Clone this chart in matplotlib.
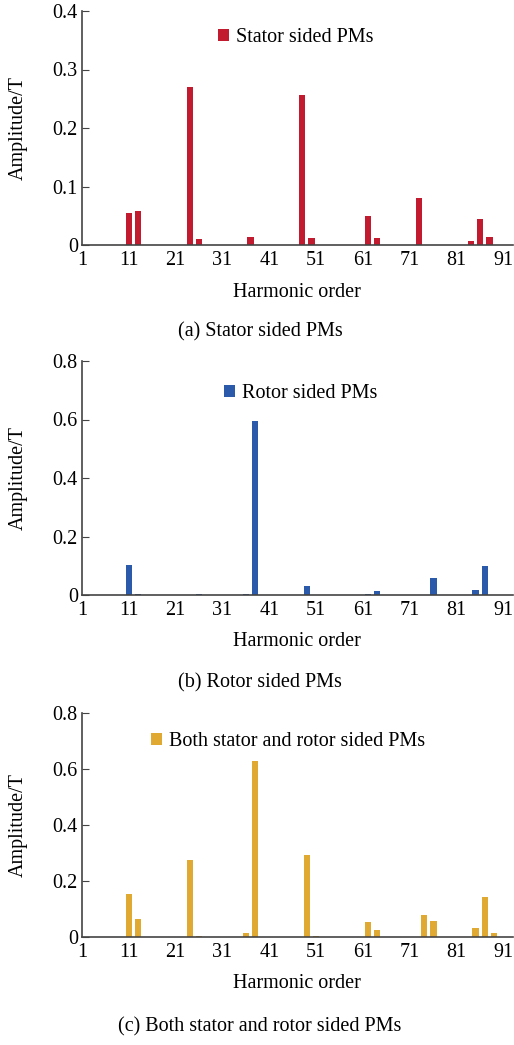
import matplotlib
matplotlib.use('Agg')
import matplotlib.pyplot as plt
from matplotlib.ticker import FuncFormatter

# Harmonic spectra
stator_orders = [11, 13, 24, 26, 37, 48, 50, 62, 64, 73, 84, 86, 88]
stator_amp = [0.054, 0.058, 0.27, 0.011, 0.014, 0.257, 0.012, 0.05, 0.012, 0.08, 0.006, 0.044, 0.013]

rotor_orders = [11, 13, 26, 36, 38, 49, 62, 64, 76, 85, 87]
rotor_amp = [0.103, 0.004, 0.004, 0.004, 0.595, 0.03, 0.004, 0.014, 0.058, 0.018, 0.098]

both_orders = [11, 13, 24, 26, 36, 38, 49, 51, 62, 64, 74, 76, 85, 87, 89]
both_amp = [0.155, 0.065, 0.275, 0.005, 0.016, 0.627, 0.293, 0.004, 0.052, 0.026,
            0.079, 0.058, 0.031, 0.143, 0.013]

x_ticks = [1, 11, 21, 31, 41, 51, 61, 71, 81, 91]

panels = [
    (stator_orders, stator_amp, '#C21A2E', 'Stator sided PMs', '(a) Stator sided PMs',
     [0, 0.1, 0.2, 0.3, 0.4]),
    (rotor_orders, rotor_amp, '#2C5AAA', 'Rotor sided PMs', '(b) Rotor sided PMs',
     [0, 0.2, 0.4, 0.6, 0.8]),
    (both_orders, both_amp, '#E0A932', 'Both stator and rotor sided PMs',
     '(c) Both stator and rotor sided PMs', [0, 0.2, 0.4, 0.6, 0.8]),
]

plt.rcParams['font.family'] = ['Liberation Serif', 'DejaVu Serif']
plt.rcParams['font.size'] = 14.5

W, H = 514, 1045
fig = plt.figure(figsize=(W / 100, H / 100), dpi=100)

# pixel layout: axes top, axes bottom, x label y, caption y, legend handle x / y
boxes = [(11, 245, 292, 332, 218, 38),
         (361, 595, 642, 683, 224, 394),
         (713, 937, 984, 1027, 151, 742)]
left, right = 82, 513


def fmt(v, pos):
    return '0' if v == 0 else f'{v:g}'


for (orders, amp, color, leg, caption, yticks), (top, bot, xl_y, cap_y, lx, ly) in zip(panels, boxes):
    ax = fig.add_axes([left / W, 1 - bot / H, (right - left) / W, (bot - top) / H])
    ax.bar(orders, amp, width=1.35, color=color, label=leg)
    ax.set_xlim(1, 93)
    ax.set_ylim(0, yticks[-1])
    ax.set_xticks(x_ticks)
    ax.set_yticks(yticks)
    ax.yaxis.set_major_formatter(FuncFormatter(fmt))
    for s in ['top', 'right']:
        ax.spines[s].set_visible(False)
    for s in ['left', 'bottom']:
        ax.spines[s].set_color('#444444')
        ax.spines[s].set_linewidth(1.2)
    ax.tick_params(axis='y', direction='in', length=5, color='#444444', pad=3)
    ax.tick_params(axis='x', direction='in', length=0, pad=4)
    ax.set_ylabel('Amplitude/T', va='center')
    ax.yaxis.set_label_coords((18 - left) / (right - left), 0.5)
    fig.text(297 / W, 1 - xl_y / H, 'Harmonic order', ha='center', va='center')
    fig.text(260 / W, 1 - cap_y / H, caption, ha='center', va='center')
    ax.legend(loc='center left', bbox_to_anchor=(lx / W, 1 - ly / H),
              bbox_transform=fig.transFigure, frameon=False, borderpad=0, borderaxespad=0,
              handlelength=0.55, handleheight=0.55, handletextpad=0.35)

fig.savefig('out.png', dpi=100)
